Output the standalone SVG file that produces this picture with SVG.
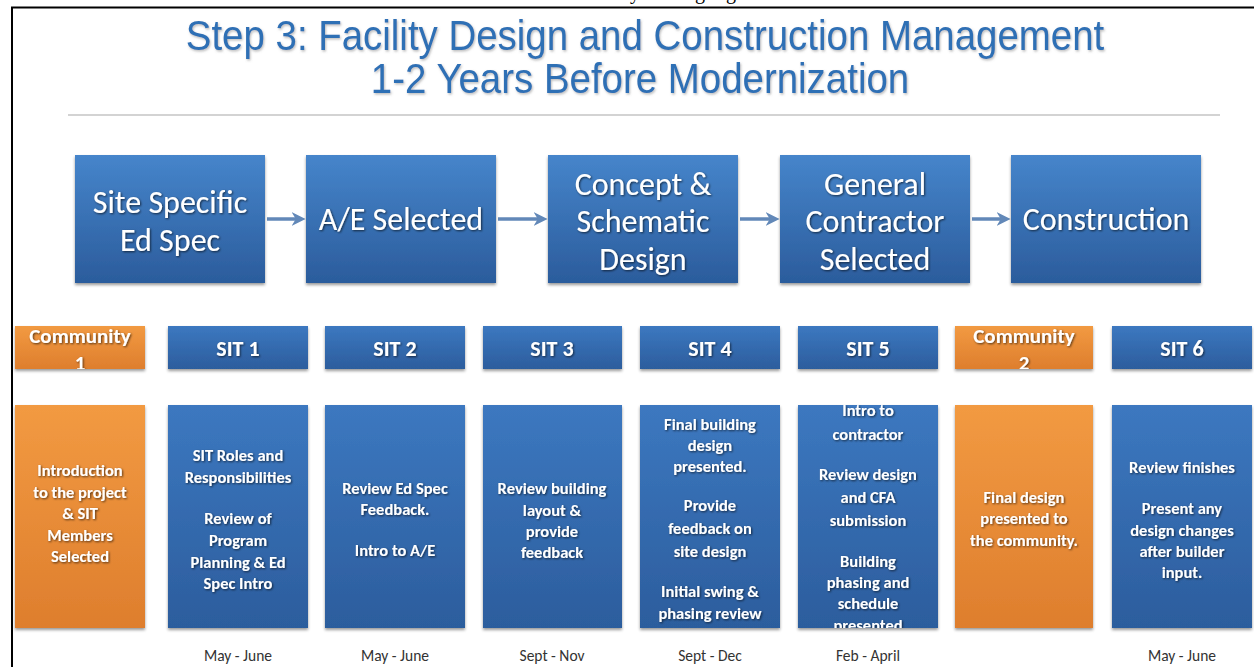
<svg xmlns="http://www.w3.org/2000/svg" width="1254" height="667" viewBox="0 0 1254 667">
  <defs>
    <style>
      .title { font-family: "Liberation Sans", Arial, sans-serif; font-size: 42px; fill: #2f6fb5; text-anchor: middle; }
      .stage { font-family: Carlito, Lato, "Liberation Sans", sans-serif; font-size: 32px; fill: #ffffff; text-anchor: middle; }
      .head { font-family: Carlito, Lato, "Liberation Sans", sans-serif; font-weight: bold; font-size: 22px; fill: #ffffff; text-anchor: middle; }
      .headc { font-family: Carlito, Lato, "Liberation Sans", sans-serif; font-weight: bold; font-size: 21px; fill: #ffffff; text-anchor: middle; }
      .body { font-family: Carlito, Lato, "Liberation Sans", sans-serif; font-weight: bold; font-size: 16.5px; fill: #ffffff; text-anchor: middle; }
      .date { font-family: Carlito, Lato, "Liberation Sans", sans-serif; font-size: 15.5px; fill: #333333; text-anchor: middle; }
      .frag { font-family: "Liberation Serif", "Times New Roman", serif; font-size: 20px; fill: #000000; }
      .blue { fill: url(#gBlue); filter: url(#boxShadow); }
      .blueTop { fill: url(#gBlueTop); filter: url(#boxShadow); }
      .orange { fill: url(#gOrange); filter: url(#boxShadow); }
      .arrow { stroke: #6288b8; stroke-width: 3.5; fill: none; marker-end: url(#arrowHead); }
    </style>
    <linearGradient id="gBlueTop" x1="0" y1="0" x2="0" y2="1">
      <stop offset="0" stop-color="#4685cb"/>
      <stop offset="1" stop-color="#2b5c9c"/>
    </linearGradient>
    <linearGradient id="gBlue" x1="0" y1="0" x2="0" y2="1">
      <stop offset="0" stop-color="#3c78c0"/>
      <stop offset="1" stop-color="#2c5d9d"/>
    </linearGradient>
    <linearGradient id="gOrange" x1="0" y1="0" x2="0" y2="1">
      <stop offset="0" stop-color="#f29a42"/>
      <stop offset="1" stop-color="#de7e2d"/>
    </linearGradient>
    <filter id="boxShadow" x="-10%" y="-10%" width="120%" height="125%">
      <feDropShadow dx="0" dy="2" stdDeviation="1.5" flood-color="#000000" flood-opacity="0.4"/>
    </filter>
    <filter id="textShadow" x="-10%" y="-20%" width="120%" height="150%">
      <feDropShadow dx="1" dy="1" stdDeviation="0.8" flood-color="#000000" flood-opacity="0.65"/>
    </filter>
    <filter id="titleShadow" x="-5%" y="-20%" width="110%" height="150%">
      <feDropShadow dx="1" dy="1.5" stdDeviation="1.2" flood-color="#7a7a7a" flood-opacity="0.5"/>
    </filter>
    <marker id="arrowHead" viewBox="0 0 10 10" refX="6" refY="5" markerWidth="4" markerHeight="4" orient="auto">
      <path d="M0,0 L10,5 L0,10 L3,5 Z" fill="#6288b8"/>
    </marker>
    <clipPath id="cpH1"><rect x="15" y="326" width="130" height="43"/></clipPath>
    <clipPath id="cpH7"><rect x="955" y="326" width="138" height="43"/></clipPath>
    <clipPath id="cpB5"><rect x="798" y="405" width="140" height="223"/></clipPath>
  </defs>

  <rect width="1254" height="667" fill="#ffffff"/>

  <!-- descenders of the line printed above the frame -->
  <g id="topFragments">
    <text class="frag" x="630" y="-1">y</text>
    <text class="frag" x="695" y="-1">g</text>
    <text class="frag" x="726" y="-1">g</text>
  </g>

  <!-- page frame -->
  <g id="frame" stroke="#000000" stroke-width="2" fill="none">
    <line x1="11" y1="7.5" x2="1254" y2="7.5"/>
    <line x1="12" y1="7" x2="12" y2="667"/>
  </g>

  <!-- heading, slightly condensed -->
  <g id="title" filter="url(#titleShadow)">
    <g transform="translate(645 0) scale(0.915 1)">
      <text class="title" x="0" y="50">Step 3: Facility Design and Construction Management</text>
    </g>
    <g transform="translate(640 0) scale(0.915 1)">
      <text class="title" x="0" y="93">1-2 Years Before Modernization</text>
    </g>
  </g>
  <line id="separator" x1="68" y1="115" x2="1220" y2="115" stroke="#d3d3d3" stroke-width="2"/>

  <!-- connectors between the stages -->
  <g id="connectors">
    <line class="arrow" x1="267" y1="219" x2="300" y2="219"/>
    <line class="arrow" x1="498" y1="219" x2="542" y2="219"/>
    <line class="arrow" x1="740" y1="219" x2="774" y2="219"/>
    <line class="arrow" x1="972" y1="219" x2="1005" y2="219"/>
  </g>

  <!-- stage boxes -->
  <g id="stage1">
    <rect class="blueTop" x="75" y="155" width="190" height="128"/>
    <g filter="url(#textShadow)">
      <text class="stage" x="170" y="213">Site Specific</text>
      <text class="stage" x="170" y="251">Ed Spec</text>
    </g>
  </g>
  <g id="stage2">
    <rect class="blueTop" x="306" y="155" width="190" height="128"/>
    <text class="stage" x="401" y="230" filter="url(#textShadow)">A/E Selected</text>
  </g>
  <g id="stage3">
    <rect class="blueTop" x="548" y="155" width="190" height="128"/>
    <g filter="url(#textShadow)">
      <text class="stage" x="643" y="195">Concept &amp;</text>
      <text class="stage" x="643" y="232">Schematic</text>
      <text class="stage" x="643" y="270">Design</text>
    </g>
  </g>
  <g id="stage4">
    <rect class="blueTop" x="780" y="155" width="190" height="128"/>
    <g filter="url(#textShadow)">
      <text class="stage" x="875" y="195">General</text>
      <text class="stage" x="875" y="232">Contractor</text>
      <text class="stage" x="875" y="270">Selected</text>
    </g>
  </g>
  <g id="stage5">
    <rect class="blueTop" x="1011" y="155" width="190" height="128"/>
    <text class="stage" x="1106" y="230" filter="url(#textShadow)">Construction</text>
  </g>

  <!-- meeting columns -->
  <g id="community1">
    <rect class="orange" x="15" y="326" width="130" height="43"/>
    <g clip-path="url(#cpH1)"><g filter="url(#textShadow)">
      <text class="headc" x="80" y="343">Community</text>
      <text class="headc" x="80" y="370">1</text>
    </g></g>
    <rect class="orange" x="15" y="405" width="130" height="223"/>
    <g filter="url(#textShadow)">
      <text class="body" x="80" y="476">Introduction</text>
      <text class="body" x="80" y="498">to the project</text>
      <text class="body" x="80" y="519">&amp; SIT</text>
      <text class="body" x="80" y="541">Members</text>
      <text class="body" x="80" y="562">Selected</text>
    </g>
  </g>

  <g id="sit1">
    <rect class="blue" x="168" y="326" width="140" height="43"/>
    <text class="head" x="238" y="356" filter="url(#textShadow)">SIT 1</text>
    <rect class="blue" x="168" y="405" width="140" height="223"/>
    <g filter="url(#textShadow)">
      <text class="body" x="238" y="461">SIT Roles and</text>
      <text class="body" x="238" y="483">Responsibilities</text>
      <text class="body" x="238" y="524">Review of</text>
      <text class="body" x="238" y="546">Program</text>
      <text class="body" x="238" y="568">Planning &amp; Ed</text>
      <text class="body" x="238" y="589">Spec Intro</text>
    </g>
    <text class="date" x="238" y="661">May - June</text>
  </g>

  <g id="sit2">
    <rect class="blue" x="325" y="326" width="140" height="43"/>
    <text class="head" x="395" y="356" filter="url(#textShadow)">SIT 2</text>
    <rect class="blue" x="325" y="405" width="140" height="223"/>
    <g filter="url(#textShadow)">
      <text class="body" x="395" y="494">Review Ed Spec</text>
      <text class="body" x="395" y="515">Feedback.</text>
      <text class="body" x="395" y="556">Intro to A/E</text>
    </g>
    <text class="date" x="395" y="661">May - June</text>
  </g>

  <g id="sit3">
    <rect class="blue" x="483" y="326" width="139" height="43"/>
    <text class="head" x="552" y="356" filter="url(#textShadow)">SIT 3</text>
    <rect class="blue" x="483" y="405" width="139" height="223"/>
    <g filter="url(#textShadow)">
      <text class="body" x="552" y="494">Review building</text>
      <text class="body" x="552" y="516">layout &amp;</text>
      <text class="body" x="552" y="537">provide</text>
      <text class="body" x="552" y="558">feedback</text>
    </g>
    <text class="date" x="552" y="661">Sept - Nov</text>
  </g>

  <g id="sit4">
    <rect class="blue" x="640" y="326" width="140" height="43"/>
    <text class="head" x="710" y="356" filter="url(#textShadow)">SIT 4</text>
    <rect class="blue" x="640" y="405" width="140" height="223"/>
    <g filter="url(#textShadow)">
      <text class="body" x="710" y="430">Final building</text>
      <text class="body" x="710" y="451">design</text>
      <text class="body" x="710" y="472">presented.</text>
      <text class="body" x="710" y="511">Provide</text>
      <text class="body" x="710" y="534">feedback on</text>
      <text class="body" x="710" y="557">site design</text>
      <text class="body" x="710" y="597">Initial swing &amp;</text>
      <text class="body" x="710" y="619">phasing review</text>
    </g>
    <text class="date" x="710" y="661">Sept - Dec</text>
  </g>

  <g id="sit5">
    <rect class="blue" x="798" y="326" width="140" height="43"/>
    <text class="head" x="868" y="356" filter="url(#textShadow)">SIT 5</text>
    <rect class="blue" x="798" y="405" width="140" height="223"/>
    <g clip-path="url(#cpB5)"><g filter="url(#textShadow)">
      <text class="body" x="868" y="416">Intro to</text>
      <text class="body" x="868" y="440">contractor</text>
      <text class="body" x="868" y="480">Review design</text>
      <text class="body" x="868" y="503">and CFA</text>
      <text class="body" x="868" y="526">submission</text>
      <text class="body" x="868" y="567">Building</text>
      <text class="body" x="868" y="588">phasing and</text>
      <text class="body" x="868" y="609">schedule</text>
      <text class="body" x="868" y="631">presented</text>
    </g></g>
    <text class="date" x="868" y="661">Feb - April</text>
  </g>

  <g id="community2">
    <rect class="orange" x="955" y="326" width="138" height="43"/>
    <g clip-path="url(#cpH7)"><g filter="url(#textShadow)">
      <text class="headc" x="1024" y="343">Community</text>
      <text class="headc" x="1024" y="370">2</text>
    </g></g>
    <rect class="orange" x="955" y="405" width="138" height="223"/>
    <g filter="url(#textShadow)">
      <text class="body" x="1024" y="503">Final design</text>
      <text class="body" x="1024" y="524">presented to</text>
      <text class="body" x="1024" y="546">the community.</text>
    </g>
  </g>

  <g id="sit6">
    <rect class="blue" x="1112" y="326" width="140" height="43"/>
    <text class="head" x="1182" y="356" filter="url(#textShadow)">SIT 6</text>
    <rect class="blue" x="1112" y="405" width="140" height="223"/>
    <g filter="url(#textShadow)">
      <text class="body" x="1182" y="473">Review finishes</text>
      <text class="body" x="1182" y="514">Present any</text>
      <text class="body" x="1182" y="536">design changes</text>
      <text class="body" x="1182" y="557">after builder</text>
      <text class="body" x="1182" y="578">input.</text>
    </g>
    <text class="date" x="1182" y="661">May - June</text>
  </g>
</svg>
